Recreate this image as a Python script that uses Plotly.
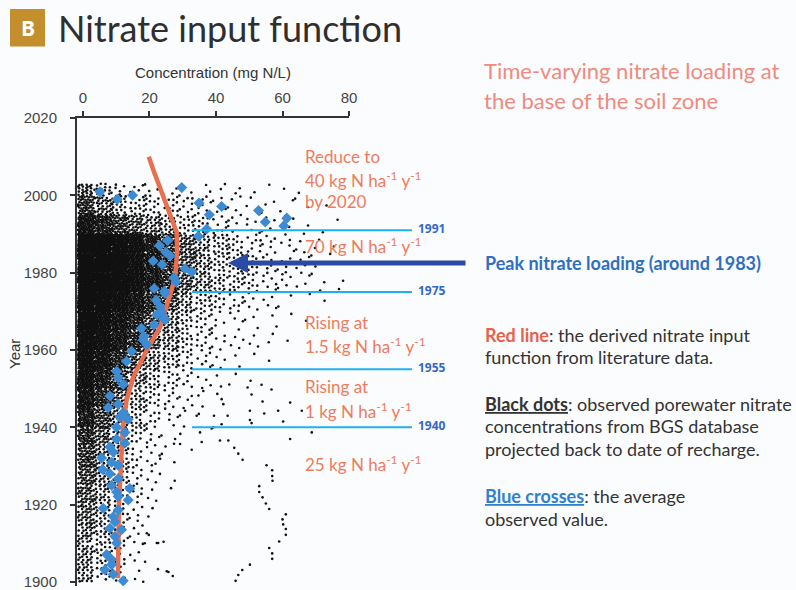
import plotly.graph_objects as go

# ---------------- data ----------------
conc_ticks = [0, 20, 40, 60, 80]
year_ticks = [1900, 1920, 1940, 1960, 1980, 2000, 2020]

# red line: derived nitrate input function
red_years = [1901, 1920, 1940, 1947, 1953, 1960, 1966, 1978.5, 1985, 1990.4, 2006.7, 2010]
red_conc = [10.5, 10.8, 12.0, 13.1, 15.1, 19.2, 23.2, 27.7, 28.3, 28.2, 21.1, 19.8]

# blue diamonds: average observed value
blue_conc = [5.1, 10.3, 14.9, 29.7, 34.9, 38.0, 41.7, 52.8, 54.8, 61.3, 60.4, 37.2, 34.7,
             23.0, 25.5, 24.9, 26.2, 21.1, 23.8, 30.7, 32.7, 27.4, 27.9, 21.4, 24.5, 22.0,
             23.2, 22.2, 24.4, 21.4, 17.6, 18.3, 19.2, 18.1, 14.6, 13.1, 10.1, 10.6, 12.1,
             8.1, 10.6, 7.6, 12.1, 13.6, 11.1, 10.1, 12.6, 10.1, 12.6, 8.1, 9.1, 5.6, 8.6,
             10.6, 5.9, 8.1, 10.6, 8.6, 14.1, 10.1, 10.6, 13.6, 6.1, 10.6, 9.1, 9.6, 8.1,
             11.6, 9.6, 10.1, 7.1, 8.6, 8.6, 6.6, 9.1, 12.1, 24.7, 23.7, 24.7]
blue_years = [2000.9, 1999.0, 2000.0, 2002.0, 1998.0, 1995.0, 1997.1, 1996.1, 1993.1, 1994.1,
              1992.1, 1991.3, 1989.4, 1987.0, 1988.3, 1985.3, 1984.4, 1983.0, 1982.1, 1981.0,
              1980.2, 1978.7, 1977.6, 1975.9, 1975.2, 1972.9, 1971.2, 1969.1, 1968.2, 1966.5,
              1965.6, 1963.5, 1961.4, 1962.6, 1959.7, 1957.1, 1954.5, 1952.8, 1951.1, 1948.1,
              1946.0, 1945.1, 1943.8, 1942.1, 1942.6, 1940.0, 1938.7, 1937.0, 1935.9, 1934.9,
              1933.6, 1932.1, 1931.0, 1930.2, 1929.1, 1928.0, 1926.7, 1925.0, 1924.2, 1923.3,
              1922.1, 1921.2, 1919.1, 1918.6, 1916.9, 1915.6, 1913.9, 1913.5, 1911.8, 1910.1,
              1907.1, 1905.8, 1904.5, 1903.2, 1902.0, 1900.3, 1974.6, 1969.9, 1967.8]

# individually read sparse black dots (outside the dense cloud)
sparse_conc = [55.2, 56.9, 56.9, 57.0, 53.0, 53.0, 54.0, 55.0, 56.0, 61.0, 60.0, 60.2, 61.0,
               61.0, 59.0, 56.0, 56.9, 56.9, 50.2, 47.9, 46.7, 45.9, 45.5, 46.7, 48.0, 50.2,
               50.2, 50.7, 49.5, 50.7, 54.0, 54.5, 58.7, 60.2, 62.3, 68.8, 62.3, 56.7, 53.7,
               65.8, 43.7, 41.2, 43.5, 39.4, 41.7, 38.7, 35.7, 32.7, 29.2, 27.7, 35.2, 34.2,
               30.7, 42.2, 41.7, 44.0, 32.7, 36.2, 22.2, 25.2, 19.2, 23.2, 20.7, 22.6, 25.7,
               39.2]
sparse_years = [1930.2, 1928.9, 1927.4, 1926.2, 1924.8, 1923.3, 1921.9, 1920.3, 1918.9, 1917.5,
                1916.2, 1914.9, 1913.7, 1912.2, 1910.5, 1908.8, 1907.4, 1906.0, 1904.5, 1903.1,
                1901.8, 1900.3, 1934.7, 1933.2, 1931.6, 1944.3, 1941.9, 1941.1, 1950.3, 1948.5,
                1946.7, 1943.6, 1944.3, 1941.5, 1937.0, 1938.7, 1946.4, 1949.8, 1951.0, 1944.3,
                1936.6, 1936.6, 1943.0, 1943.0, 1940.8, 1939.7, 1936.2, 1934.2, 1935.7, 1937.0,
                1938.7, 1943.0, 1944.3, 1946.0, 1947.3, 1951.1, 1948.1, 1949.4, 1910.1, 1902.8,
                1912.6, 1931.9, 1930.2, 1910.1, 1902.6, 1940.0]

# estimated number of black dots per (year bin, concentration bin) in the dense cloud
dot_conc_edges = [-1.5, 3.5, 8.5, 13.5, 18.5, 23.5, 28.5, 33.5, 38.5, 43.5, 48.5, 53.5,
                  58.5, 63.5, 68.5, 73.5, 78.5]
dot_year_edges = [1900, 1905, 1910, 1915, 1920, 1925, 1930, 1935, 1940, 1945, 1950, 1955,
                  1960, 1965, 1970, 1975, 1980, 1985, 1990, 1995, 2000, 2003]
dot_counts = [
    [25, 12, 7, 3, 1, 1, 0, 0, 0, 0, 0, 0, 0, 0, 0, 0],        # 1900-1905
    [28, 15, 8, 4, 1, 0, 0, 0, 0, 0, 0, 0, 0, 0, 0, 0],        # 1905-1910
    [30, 17, 10, 5, 2, 1, 0, 0, 0, 0, 0, 0, 0, 0, 0, 0],       # 1910-1915
    [35, 20, 11, 5, 2, 0, 0, 0, 0, 0, 0, 0, 0, 0, 0, 0],       # 1915-1920
    [40, 24, 13, 7, 3, 1, 0, 0, 0, 0, 0, 0, 0, 0, 0, 0],       # 1920-1925
    [45, 28, 15, 8, 4, 1, 0, 0, 0, 0, 0, 0, 0, 0, 0, 0],       # 1925-1930
    [50, 32, 18, 9, 5, 2, 0, 0, 0, 0, 0, 0, 0, 0, 0, 0],       # 1930-1935
    [60, 38, 22, 12, 6, 3, 1, 0, 0, 0, 0, 0, 0, 0, 0, 0],      # 1935-1940
    [80, 50, 30, 17, 9, 5, 2, 1, 0, 0, 0, 0, 0, 0, 0, 0],      # 1940-1945
    [100, 65, 38, 22, 12, 7, 4, 2, 1, 0, 0, 0, 0, 0, 0, 0],    # 1945-1950
    [120, 80, 50, 30, 18, 11, 7, 4, 2, 1, 1, 0, 0, 0, 0, 0],   # 1950-1955
    [130, 100, 65, 42, 28, 18, 11, 7, 4, 2, 1, 1, 0, 0, 0, 0], # 1955-1960
    [140, 120, 90, 62, 42, 26, 15, 9, 6, 4, 3, 2, 1, 0, 0, 0],        # 1960-1965
    [150, 130, 100, 70, 45, 28, 17, 10, 6, 4, 3, 2, 1, 1, 0, 0],      # 1965-1970
    [160, 150, 125, 95, 65, 42, 25, 16, 11, 8, 5, 4, 2, 1, 1, 0],     # 1970-1975
    [170, 165, 150, 120, 85, 60, 40, 25, 18, 14, 10, 7, 5, 4, 3, 2],  # 1975-1980
    [170, 165, 150, 120, 85, 60, 40, 25, 18, 14, 10, 7, 5, 4, 3, 2],  # 1980-1985
    [170, 160, 145, 115, 80, 55, 36, 24, 17, 13, 9, 6, 5, 3, 2, 1],   # 1985-1990
    [100, 75, 55, 40, 30, 22, 16, 12, 8, 6, 5, 4, 3, 2, 1, 1],        # 1990-1995
    [55, 34, 22, 15, 13, 11, 9, 7, 5, 4, 3, 3, 2, 2, 1, 0],           # 1995-2000
    [24, 12, 6, 4, 3, 3, 2, 2, 2, 2, 1, 1, 1, 1, 0, 0],               # 2000-2003
]

boundary_years = [1991, 1975, 1955, 1940]
boundary_labels = ["1991", "1975", "1955", "1940"]
peak_year = 1982.5

# ---------------- expand density table into dot positions (deterministic R2 layout) ----
A1, A2 = 0.7548776662466927, 0.5698402909980532
cloud_x, cloud_y = [], []
cell = 0
for i, row in enumerate(dot_counts):
    y0, y1 = dot_year_edges[i], dot_year_edges[i + 1]
    for j, n in enumerate(row):
        x0, x1 = dot_conc_edges[j], dot_conc_edges[j + 1]
        for k in range(n):
            t = k + 1 + cell * 131
            u = (0.5 + A1 * t) % 1.0
            v = (0.5 + A2 * t) % 1.0
            cloud_x.append(x0 + u * (x1 - x0))
            cloud_y.append(y0 + v * (y1 - y0))
        cell += 1

# ---------------- figure ----------------
W, H = 796, 590
L, R, T, B = 77, 349, 118, 590
X_RANGE = [-1.8, 80]
Y_RANGE = [2020 - (B - T) / 3.9, 2020]


def px(xpix):
    return (xpix - L) / (R - L)


def py(ypix):
    return (B - ypix) / (B - T)


def yr(year):
    return (year - Y_RANGE[0]) / (Y_RANGE[1] - Y_RANGE[0])


fig = go.Figure()
fig.add_trace(go.Scatter(x=cloud_x + sparse_conc, y=cloud_y + sparse_years, mode="markers",
                         marker=dict(size=2.6, color="#111111"), hoverinfo="skip",
                         showlegend=False))
fig.add_trace(go.Scatter(x=red_conc, y=red_years, mode="lines",
                         line=dict(color="#ea6f50", width=4.5), showlegend=False))
fig.add_trace(go.Scatter(x=blue_conc, y=blue_years, mode="markers",
                         marker=dict(symbol="diamond", size=8.5, color="#3d8bd3"),
                         showlegend=False))

shapes = []
annotations = []

# title block
shapes.append(dict(type="rect", xref="paper", yref="paper", x0=px(10), x1=px(45),
                   y0=py(46), y1=py(8), fillcolor="#c28f2c", line=dict(width=0)))
annotations.append(dict(xref="paper", yref="paper", x=px(27.5), y=py(27), text="<b>B</b>",
                        showarrow=False, font=dict(family="Open Sans", size=21, color="white"),
                        xanchor="center", yanchor="middle"))
annotations.append(dict(xref="paper", yref="paper", x=px(56), y=py(27),
                        text="Nitrate input function", showarrow=False,
                        font=dict(family="Lato", size=36, color="#2f2f2f"),
                        xanchor="left", yanchor="middle"))

# axis titles
annotations.append(dict(xref="paper", yref="paper", x=px(213), y=py(72),
                        text="Concentration (mg N/L)", showarrow=False,
                        font=dict(family="Liberation Sans", size=15, color="#333"),
                        xanchor="center", yanchor="middle"))
annotations.append(dict(xref="paper", yref="paper", x=px(15), y=py(356), text="Year",
                        textangle=-90, showarrow=False,
                        font=dict(family="Liberation Sans", size=15, color="#333"),
                        xanchor="center", yanchor="middle"))

# boundary lines with year labels
for yv, lab in zip(boundary_years, boundary_labels):
    shapes.append(dict(type="line", xref="paper", yref="paper", x0=px(192), x1=px(412),
                       y0=yr(yv), y1=yr(yv), line=dict(color="#1fb1ef", width=2)))
    annotations.append(dict(xref="paper", yref="paper", x=px(416), y=yr(yv) + 2 / (B - T),
                            text="<b>" + lab + "</b>", showarrow=False,
                            font=dict(family="Open Sans", size=12, color="#3468c4"),
                            xanchor="left", yanchor="middle"))

# peak arrow
annotations.append(dict(xref="paper", yref="paper", x=px(228), y=yr(peak_year), text="",
                        showarrow=True, ax=467 - 228, ay=0, arrowhead=2, arrowsize=0.8,
                        arrowwidth=5, arrowcolor="#2b4aa3"))
annotations.append(dict(xref="paper", yref="paper", x=px(483), y=yr(peak_year),
                        text="<b>Peak nitrate loading (around 1983)</b>", showarrow=False,
                        font=dict(family="Lato", size=18, color="#2f6fc2"),
                        xanchor="left", yanchor="middle"))

# red loading annotations
red_font = dict(family="Lato", size=17, color="#ee7b5c")
red_lines = [
    ("Reduce to", 157),
    ("40 kg N ha<sup>-1</sup> y<sup>-1</sup>", 180),
    ("by 2020", 202),
    ("70 kg N ha<sup>-1</sup> y<sup>-1</sup>", 247),
    ("Rising at", 324),
    ("1.5 kg N ha<sup>-1</sup> y<sup>-1</sup>", 347),
    ("Rising at", 389),
    ("1 kg N ha<sup>-1</sup> y<sup>-1</sup>", 413),
    ("25 kg N ha<sup>-1</sup> y<sup>-1</sup>", 466),
]
for txt, ypix in red_lines:
    annotations.append(dict(xref="paper", yref="paper", x=px(303), y=py(ypix), text=txt,
                            showarrow=False, font=red_font, xanchor="left",
                            yanchor="middle"))

# right-hand heading
for txt, ypix in [("Time-varying nitrate loading at", 70), ("the base of the soil zone", 100)]:
    annotations.append(dict(xref="paper", yref="paper", x=px(482), y=py(ypix), text=txt,
                            showarrow=False, font=dict(family="Lato", size=22, color="#f0897e"),
                            xanchor="left", yanchor="middle"))

# explanation text
exp_font = dict(family="Lato", size=18, color="#333333")
exp_lines = [
    ("<span style='color:#e8604a'><b>Red line</b></span>: the derived nitrate input", 337),
    ("function from literature data.", 359),
    ("<b><u>Black dots</u></b>: observed porewater nitrate", 406),
    ("concentrations from BGS database", 429),
    ("projected back to date of recharge.", 452),
    ("<span style='color:#2f80d0'><b><u>Blue crosses</u></b></span>: the average", 499),
    ("observed value.", 522),
]
for txt, ypix in exp_lines:
    annotations.append(dict(xref="paper", yref="paper", x=px(483), y=py(ypix), text=txt,
                            showarrow=False, font=exp_font, xanchor="left",
                            yanchor="middle"))

fig.update_layout(
    width=W, height=H,
    margin=dict(l=L, r=W - R, t=T, b=H - B, pad=0),
    paper_bgcolor="#fbfcfd", plot_bgcolor="#fbfcfd",
    shapes=shapes, annotations=annotations,
    xaxis=dict(range=X_RANGE, side="top", tickvals=conc_ticks, ticks="outside", ticklen=5,
               tickwidth=1.5, tickcolor="#333", showline=True, linecolor="#333",
               linewidth=1.5, showgrid=False, zeroline=False, ticklabelstandoff=2,
               tickfont=dict(family="Liberation Sans", size=15, color="#444")),
    yaxis=dict(range=Y_RANGE, tickvals=year_ticks, ticks="outside", ticklen=5,
               tickwidth=1.5, tickcolor="#333", showline=True, linecolor="#333",
               linewidth=2, showgrid=False, zeroline=False, ticklabelstandoff=10,
               ticklabeloverflow="allow",
               tickfont=dict(family="Liberation Sans", size=15, color="#444")),
)

fig.write_html("out.html", config={"displayModeBar": False},
               post_script="document.body.style.margin='0';document.body.style.overflow='hidden';")
